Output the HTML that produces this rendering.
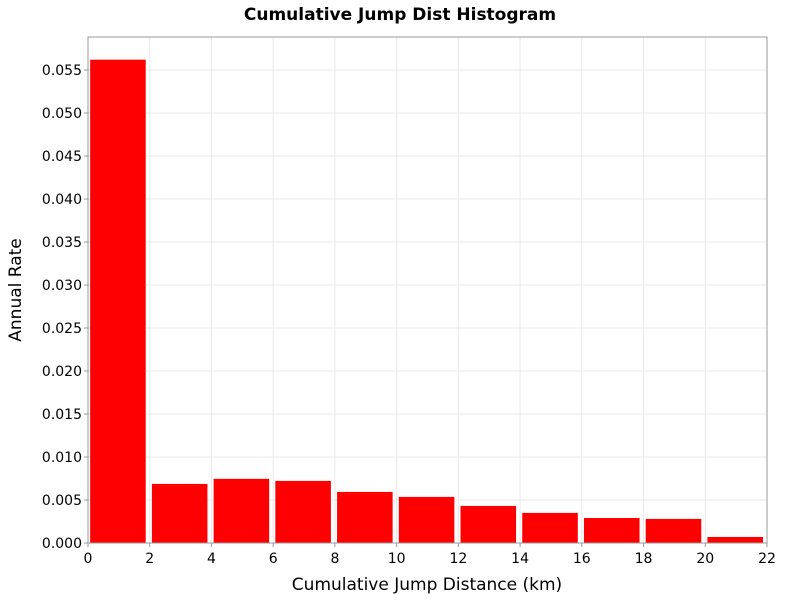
<!DOCTYPE html>
<html><head><meta charset="utf-8"><style>
body{margin:0;background:#fff;font-family:"Liberation Sans","DejaVu Sans",sans-serif}
</style></head><body>
<svg id="chart" width="800" height="600" xmlns="http://www.w3.org/2000/svg">
<rect width="800" height="600" fill="#fff"/>
<text x="400" y="20" text-anchor="middle" font-family="DejaVu Sans, sans-serif" font-weight="bold" font-size="17">Cumulative Jump Dist Histogram</text>
<g id="grid"></g>
<g id="bars"></g>
<rect x="88" y="37" width="679" height="506" fill="none" stroke="#999" stroke-width="1"/>
<g id="axes" font-family="DejaVu Sans, sans-serif" font-size="14"></g>
<text x="427" y="590" text-anchor="middle" font-family="DejaVu Sans, sans-serif" font-size="17">Cumulative Jump Distance (km)</text>
<text transform="translate(21,290) rotate(-90)" text-anchor="middle" font-family="DejaVu Sans, sans-serif" font-size="17">Annual Rate</text>
</svg>
<script>
const binStarts=[0,2,4,6,8,10,12,14,16,18,20];
const rates=[0.0562,0.00687,0.00746,0.00722,0.00594,0.00536,0.00431,0.0035,0.00291,0.0028,0.0007];
const xTicks=[0,2,4,6,8,10,12,14,16,18,20,22];
const yTicks=[0,0.005,0.01,0.015,0.02,0.025,0.03,0.035,0.04,0.045,0.05,0.055];
const binWidth=2;
const NS="http://www.w3.org/2000/svg";
const X0=88,X1=767,Y0=543,Ytop=37;
const xs=v=>X0+(v/22)*(X1-X0);
const ys=v=>Y0-v*(43/0.005);
function mk(t,a,p){const e=document.createElementNS(NS,t);for(const k in a)e.setAttribute(k,a[k]);p.appendChild(e);return e;}
const grid=document.getElementById('grid'),bars=document.getElementById('bars'),axes=document.getElementById('axes');
xTicks.forEach(v=>{
 const l=mk('line',{x1:xs(v),x2:xs(v),y1:Ytop,y2:Y0,stroke:'#e8e8e8'},grid);
 
 
 const t=mk('text',{x:xs(v),y:Y0+20,'text-anchor':'middle'},axes);t.textContent=v;
 
 
 mk('line',{x1:xs(v),x2:xs(v),y1:Y0,y2:Y0+4,stroke:'#999'},axes);
});
yTicks.forEach(v=>{
 const l=mk('line',{x1:X0,x2:X1,y1:ys(v),y2:ys(v),stroke:'#e8e8e8'},grid);
 
 
 const t=mk('text',{x:X0-6,y:ys(v)+5,'text-anchor':'end'},axes);t.textContent=v.toFixed(3);
 
 
 mk('line',{x1:X0-4,x2:X0,y1:ys(v),y2:ys(v),stroke:'#999'},axes);
});
binStarts.forEach((b,i)=>{
 const xa=xs(b+0.07),xb=xs(b+binWidth-0.13);
 const r=mk('rect',{x:xa,y:ys(rates[i]),width:xb-xa,height:Y0-ys(rates[i]),fill:'#ff0000'},bars);
 
 
});
</script>
</body></html>
